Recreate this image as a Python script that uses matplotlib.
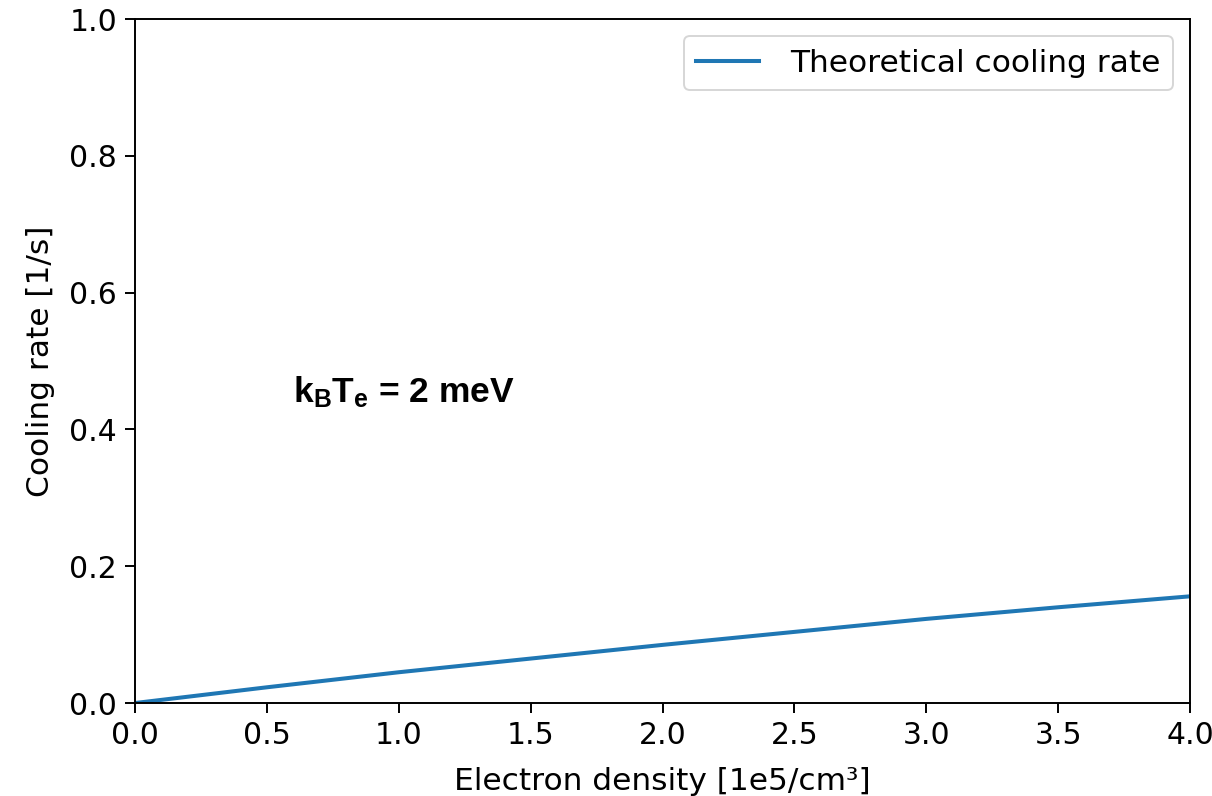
import matplotlib
matplotlib.use("Agg")
import matplotlib.pyplot as plt

# Theoretical cooling rate versus electron density
density = [0.0, 0.5, 1.0, 1.5, 2.0, 2.5, 3.0, 3.5, 4.0]          # 1e5 / cm^3
cooling_rate = [0.0, 0.023, 0.045, 0.065, 0.085, 0.104, 0.123, 0.140, 0.156]  # 1/s

x_ticks = [0.0, 0.5, 1.0, 1.5, 2.0, 2.5, 3.0, 3.5, 4.0]
y_ticks = [0.0, 0.2, 0.4, 0.6, 0.8, 1.0]

plt.rcParams["mathtext.fontset"] = "custom"
plt.rcParams["mathtext.rm"] = "Liberation Sans:bold"
plt.rcParams["mathtext.it"] = "Liberation Sans:bold"
plt.rcParams["mathtext.bf"] = "Liberation Sans:bold"

fs_tick = 21.5
fs_label = 22.5
fig = plt.figure(figsize=(12.12, 7.96), dpi=100)
ax = fig.add_axes([0.1114, 0.1168, 0.8705, 0.8593])

ax.plot(density, cooling_rate, color="#1f77b4", lw=2.9, label="Theoretical cooling rate")

ax.set_xlim(0, 4)
ax.set_ylim(0, 1)
ax.set_xticks(x_ticks)
ax.set_yticks(y_ticks)
ax.tick_params(labelsize=fs_tick, width=1.4, length=7, pad=6)
for s in ax.spines.values():
    s.set_linewidth(1.4)

ax.set_xlabel("Electron density [1e5/cm³]", fontsize=fs_label, labelpad=12)
ax.set_ylabel("Cooling rate [1/s]", fontsize=fs_label, labelpad=10)

leg = ax.legend(loc="upper right", fontsize=fs_label, handlelength=2.0,
                handletextpad=1.0, borderpad=0.4, borderaxespad=0.55,
                fancybox=True)
leg.get_frame().set_linewidth(1.4)

ax.text(0.60, 0.44, r"$\mathrm{k_BT_e}$ = 2 meV", fontsize=25.5,
        family="Liberation Sans", fontweight="bold", va="baseline", ha="left")

fig.savefig("out.png", dpi=100)
